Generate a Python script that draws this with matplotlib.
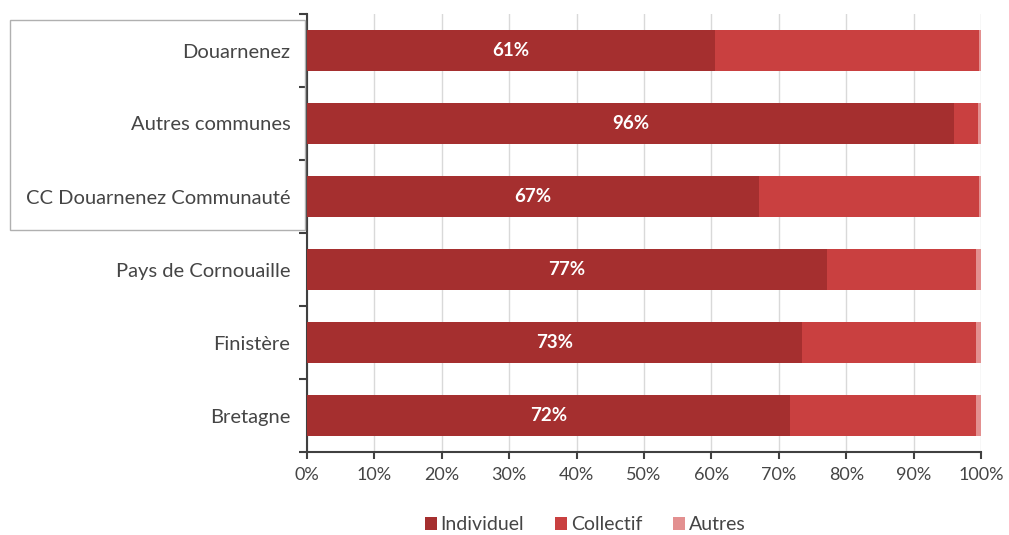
import numpy as np
import matplotlib.pyplot as plt
from matplotlib.patches import Rectangle

plt.rcParams['font.family'] = ['Lato', 'DejaVu Sans']

territoires = ["Douarnenez", "Autres communes", "CC Douarnenez Communauté",
               "Pays de Cornouaille", "Finistère", "Bretagne"]
individuel = [60.5, 96.0, 67.1, 77.2, 73.4, 71.7]
collectif = [39.2, 3.6, 32.6, 22.1, 25.8, 27.5]
autres = [0.3, 0.4, 0.3, 0.7, 0.8, 0.8]
etiquettes = ["61%", "96%", "67%", "77%", "73%", "72%"]

c_ind = "#a52f2f"
c_col = "#c94040"
c_aut = "#e39090"
txt = "#454545"

fig = plt.figure(figsize=(10.09, 5.35), dpi=100)
ax = fig.add_axes([307/1009, 1-452/535, (981-307)/1009, (452-14)/535])

y = np.arange(len(territoires))
h = 0.56
ind = np.array(individuel)
col = np.array(collectif)
aut = np.array(autres)
ax.barh(y, ind, height=h, color=c_ind, label="Individuel", zorder=3)
ax.barh(y, col, left=ind, height=h, color=c_col, label="Collectif", zorder=3)
ax.barh(y, aut, left=ind+col, height=h, color=c_aut, label="Autres", zorder=3)

for yi, v, t in zip(y, ind, etiquettes):
    ax.text(v/2, yi, t, color="white", fontweight="bold", fontsize=13.5,
            ha="center", va="center", zorder=4)

ax.set_xlim(0, 100)
ax.set_ylim(len(territoires)-0.5, -0.5)
ax.set_xticks(np.arange(0, 101, 10))
ax.set_xticklabels([f"{v}%" for v in range(0, 101, 10)], color=txt, fontsize=13)
ax.set_yticks(y)
ax.set_yticklabels(territoires, color=txt, fontsize=14.5)
ax.tick_params(axis="y", length=0, pad=12)
ax.set_yticks(np.arange(-0.5, len(territoires)), minor=True)
ax.tick_params(axis="y", which="minor", length=6, width=1.5, color="#404040")
ax.tick_params(axis="x", length=5, width=1.5, color="#404040", pad=6)
ax.grid(axis="x", color="#d9d9d9", lw=1, zorder=0)
for s in ["top", "right"]:
    ax.spines[s].set_visible(False)
ax.spines["left"].set_color("#404040")
ax.spines["left"].set_linewidth(1.5)
ax.spines["bottom"].set_color("#404040")
ax.spines["bottom"].set_linewidth(1.5)

fig.patches.append(Rectangle((10/1009, 1-230/535), 295/1009, 210/535,
                             transform=fig.transFigure, fill=False,
                             edgecolor="#b0b0b0", lw=1))

leg = fig.legend(loc="center", bbox_to_anchor=(0.58, 1-525/535), ncol=3,
                 frameon=False, fontsize=14, handlelength=0.6, handleheight=0.6,
                 handletextpad=0.2, columnspacing=1.6)
for t in leg.get_texts():
    t.set_color(txt)

fig.savefig("out.png", dpi=100)
